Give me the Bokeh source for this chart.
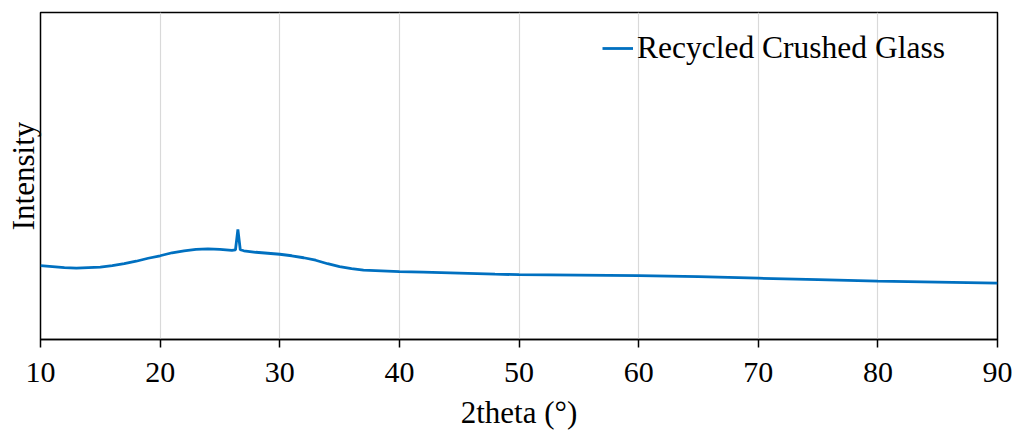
from bokeh.plotting import figure
from bokeh.models import Range1d, FixedTicker, Legend, LegendItem
from bokeh.embed import file_html
from bokeh.resources import INLINE

# Data (2theta in degrees, intensity in arbitrary units)
two_theta = [10, 11, 12, 13, 14, 15, 16, 17, 18, 19, 20, 21, 22, 23, 24, 25, 26,
             26.3, 26.5, 26.7, 27, 28, 29, 30, 31, 32, 33, 34, 35, 36, 37, 38, 39,
             40, 42, 45, 48, 50, 55, 60, 65, 70, 75, 80, 85, 90]
intensity = [740, 730, 720, 715, 720, 725, 740, 760, 785, 815, 840, 870, 890, 905, 910, 905, 895,
             900, 1105, 900, 890, 875, 865, 855, 840, 820, 795, 760, 730, 710, 695, 690, 685,
             680, 675, 665, 655, 650, 645, 640, 630, 615, 600, 585, 575, 565]
x_ticks = [10, 20, 30, 40, 50, 60, 70, 80, 90]
series_name = "Recycled Crushed Glass"

FONT = "Liberation Serif"

p = figure(width=1016, height=432, output_backend="svg", toolbar_location=None,
           x_range=Range1d(10, 90), y_range=Range1d(0, 3280),
           min_border_left=40, min_border_right=19, min_border_top=12, min_border_bottom=92)
p.background_fill_color = "white"
p.border_fill_color = "white"
p.outline_line_color = "black"
p.outline_line_width = 1.5

r = p.line(two_theta, intensity, line_color="#0070C0", line_width=2.8)

# x axis
xa = p.xaxis[0]
xa.ticker = FixedTicker(ticks=x_ticks)
xa.major_tick_out = 8
xa.major_tick_in = 0
xa.minor_tick_out = 0
xa.minor_tick_in = 0
xa.axis_line_color = "black"
xa.axis_line_width = 1.5
xa.major_tick_line_color = "black"
xa.major_tick_line_width = 1.5
xa.major_label_text_font = FONT
xa.major_label_text_font_size = "30px"
xa.major_label_text_color = "black"
xa.major_label_standoff = 15
xa.axis_label = "2theta (°)"
xa.axis_label_text_font = FONT
xa.axis_label_text_font_size = "31px"
xa.axis_label_text_font_style = "normal"
xa.axis_label_text_color = "black"
xa.axis_label_standoff = 10

# y axis (no ticks)
ya = p.yaxis[0]
ya.ticker = FixedTicker(ticks=[])
ya.axis_line_color = None
ya.major_tick_line_color = None
ya.minor_tick_line_color = None
ya.major_label_text_font_size = "0px"
ya.axis_label = "Intensity"
ya.axis_label_text_font = FONT
ya.axis_label_text_font_size = "31px"
ya.axis_label_text_font_style = "normal"
ya.axis_label_text_color = "black"
ya.axis_label_standoff = 0

# grid
p.xgrid.grid_line_color = "#d9d9d9"
p.xgrid.grid_line_width = 1.2
p.ygrid.grid_line_color = None

legend = Legend(items=[LegendItem(label=series_name, renderers=[r])],
                location=(562, 273), padding=0, margin=0, spacing=0,
                glyph_width=31, glyph_height=36, label_height=36, label_standoff=4,
                label_text_font=FONT, label_text_font_size="31.5px",
                label_text_color="black",
                border_line_color=None, background_fill_alpha=0)
p.add_layout(legend)

open("out.html", "w").write(file_html(p, INLINE))
